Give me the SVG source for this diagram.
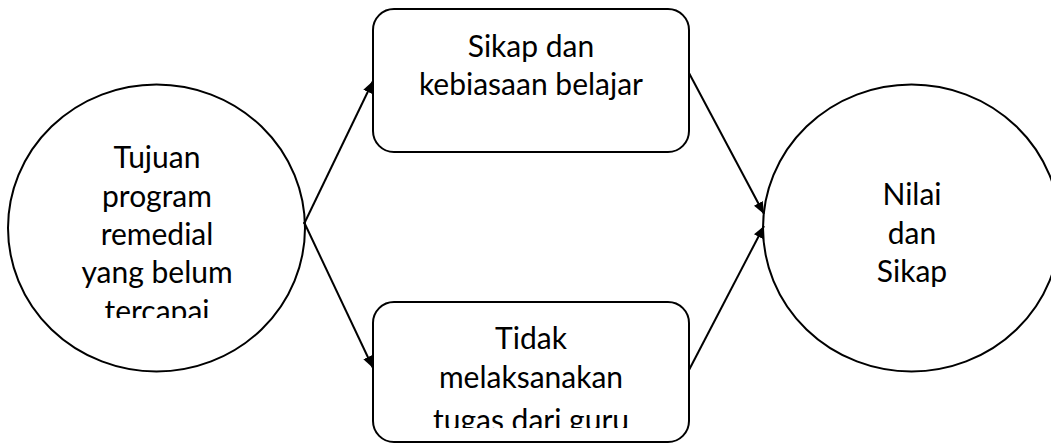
<svg xmlns="http://www.w3.org/2000/svg" width="1051" height="443" viewBox="0 0 1051 443">
<style>
.shape{fill:#fff;stroke:#000;stroke-width:2}
.lbl{font-family:Lato,"Open Sans",sans-serif;font-size:30px;fill:#000;text-anchor:middle}
.conn{stroke:#000;stroke-width:2;fill:none}
</style>
<defs>
<marker id="arr" viewBox="0 0 12 10" refX="12" refY="5" markerWidth="12" markerHeight="10" markerUnits="userSpaceOnUse" orient="auto">
<path d="M0,0 L12,5 L0,10 Z" fill="#000"/>
</marker>
<clipPath id="clipL"><rect x="40" y="130" width="240" height="188"/></clipPath>
<clipPath id="clipB"><rect x="380" y="310" width="300" height="118"/></clipPath>
</defs>
<rect width="1051" height="443" fill="#fff"/>
<g id="node-left">
<ellipse class="shape" cx="156.5" cy="228" rx="148.5" ry="143.5"/>
<g clip-path="url(#clipL)">
<text class="lbl" x="157" y="168">Tujuan</text>
<text class="lbl" x="157" y="207">program</text>
<text class="lbl" x="157" y="245">remedial</text>
<text class="lbl" x="157" y="283">yang belum</text>
<text class="lbl" x="157" y="322">tercapai</text>
</g>
</g>
<g id="node-top">
<rect class="shape" x="373" y="9" width="316" height="143" rx="21"/>
<text class="lbl" x="531" y="57">Sikap dan</text>
<text class="lbl" x="531" y="95">kebiasaan belajar</text>
</g>
<g id="node-bottom">
<rect class="shape" x="373" y="302" width="316" height="140" rx="21"/>
<g clip-path="url(#clipB)">
<text class="lbl" x="531" y="349">Tidak</text>
<text class="lbl" x="531" y="388">melaksanakan</text>
<text class="lbl" x="531" y="431">tugas dari guru</text>
</g>
</g>
<g id="node-right">
<ellipse class="shape" cx="911.5" cy="228" rx="148.5" ry="143.5"/>
<text class="lbl" x="912" y="205">Nilai</text>
<text class="lbl" x="912" y="244">dan</text>
<text class="lbl" x="912" y="282">Sikap</text>
</g>
<g id="connectors">
<line class="conn" x1="304" y1="224" x2="373" y2="81" marker-end="url(#arr)"/>
<line class="conn" x1="304" y1="222" x2="373" y2="368" marker-end="url(#arr)"/>
<line class="conn" x1="689" y1="73" x2="764" y2="214" marker-end="url(#arr)"/>
<line class="conn" x1="689" y1="370" x2="764" y2="226" marker-end="url(#arr)"/>
</g>
</svg>
